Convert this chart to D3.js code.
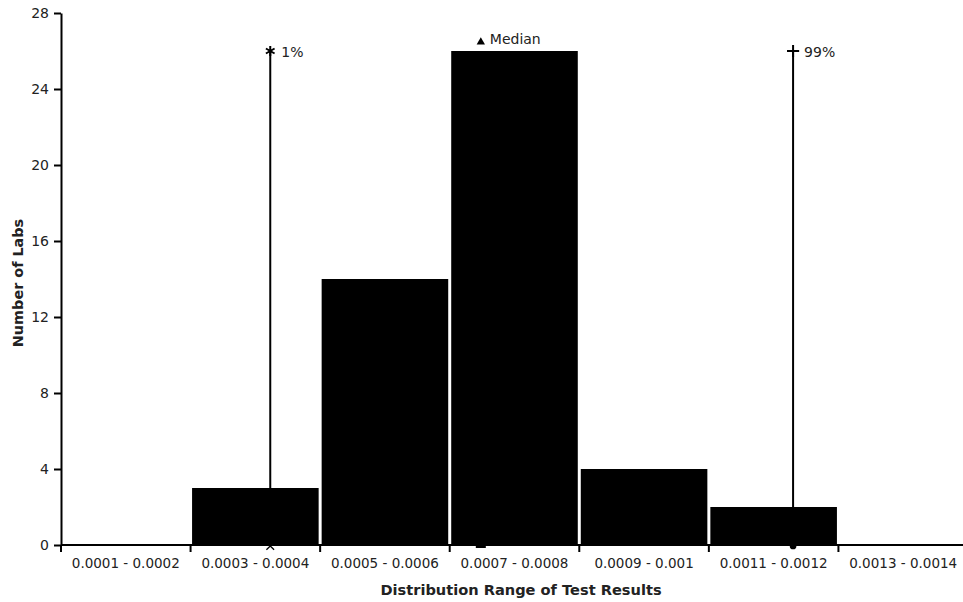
<!DOCTYPE html>
<html><head><meta charset="utf-8">
<script src="https://cdn.jsdelivr.net/npm/d3@7"></script>
<style>body{margin:0;background:#fff}svg{display:block}text{font-family:"DejaVu Sans",Verdana,sans-serif;fill:#222}</style>
</head><body><svg id="c" width="963" height="602"></svg>
<script>
const categories = ["0.0001 - 0.0002","0.0003 - 0.0004","0.0005 - 0.0006","0.0007 - 0.0008","0.0009 - 0.001","0.0011 - 0.0012","0.0013 - 0.0014"];
const counts = [0, 3, 14, 26, 4, 2, 0];
const yTicks = [0, 4, 8, 12, 16, 20, 24, 28];
const markerLabels = ["1%", "Median", "99%"];
const markerValues = [0.000423, 0.000748, 0.00123];
const markerHeights = [26, 26, 26];
const binStart = 0.0001, binWidth = 0.0002;

const svg = d3.select("#c");
const m = {left: 61, top: 13, bottom: 545, right: 968};
const x = d3.scaleBand().domain(categories).range([m.left, m.right]).paddingInner(0).paddingOuter(0);
const xv = d3.scaleLinear().domain([binStart, binStart + binWidth * categories.length]).range([m.left, m.right]);
const y = d3.scaleLinear().domain([0, 28]).range([m.bottom, m.top]);

// bars
svg.append("g").selectAll("rect").data(categories).join("rect")
  .attr("x", d => x(d) + 1.5)
  .attr("width", x.bandwidth() - 3)
  .attr("y", (d, i) => y(counts[i]))
  .attr("height", (d, i) => y(0) - y(counts[i]))
  .attr("fill", "#000");

// marker lines
const mk = svg.append("g");
markerValues.forEach((v, i) => {
  mk.append("line").attr("x1", xv(v)).attr("x2", xv(v))
    .attr("y1", y(0)).attr("y2", y(markerHeights[i]))
    .attr("stroke", "#000").attr("stroke-width", 2);
});
// top symbols
const topSyms = [d3.symbolAsterisk, d3.symbolTriangle, d3.symbolPlus];
const topSizes = [70, 30, 50];
const topOffsets = [0, -9, 0];
markerValues.forEach((v, i) => {
  mk.append("path").attr("d", d3.symbol(topSyms[i], topSizes[i])())
    .attr("transform", `translate(${xv(v)},${y(markerHeights[i]) + topOffsets[i]})`)
    .attr("fill", "#000").attr("stroke", "#000").attr("stroke-width", i === 1 ? 0 : 2);
});
// bottom symbols
mk.append("path").attr("d", d3.symbol(d3.symbolTimes, 40)())
  .attr("transform", `translate(${xv(markerValues[0])},${y(0) + 1})`)
  .attr("fill", "none").attr("stroke", "#000").attr("stroke-width", 1.3);
mk.append("rect").attr("x", xv(markerValues[1]) - 5).attr("y", y(0) - 1).attr("width", 10).attr("height", 4).attr("fill", "#000");
mk.append("path").attr("d", d3.symbol(d3.symbolCircle, 35)())
  .attr("transform", `translate(${xv(markerValues[2])},${y(0) + 1})`)
  .attr("fill", "#000");
// labels
const labOff = [[11, 1], [9, -12], [11, 1]];
markerValues.forEach((v, i) => {
  mk.append("text").attr("x", xv(v) + labOff[i][0]).attr("y", y(markerHeights[i]) + labOff[i][1])
    .attr("dy", "0.35em").attr("font-size", 14).text(markerLabels[i]);
});

// axes
const yAxis = svg.append("g").attr("transform", `translate(${m.left},0)`)
  .call(d3.axisLeft(y).tickValues(yTicks).tickSize(7).tickSizeOuter(0).tickPadding(5));
yAxis.selectAll("text").attr("font-size", 14).attr("fill", "#222");
yAxis.select(".domain").attr("stroke", "#000").attr("stroke-width", 2);
yAxis.selectAll(".tick line").attr("stroke", "#000").attr("stroke-width", 2);

const xAxis = svg.append("g").attr("transform", `translate(0,${m.bottom})`);
xAxis.append("line").attr("x1", m.left).attr("x2", m.right).attr("stroke", "#000").attr("stroke-width", 2);
xAxis.selectAll("line.t").data(categories.concat(["end"])).join("line").attr("class", "t")
  .attr("x1", (d, i) => m.left + i * x.bandwidth()).attr("x2", (d, i) => m.left + i * x.bandwidth())
  .attr("y1", 0).attr("y2", 7).attr("stroke", "#000").attr("stroke-width", 2);
xAxis.selectAll("text").data(categories).join("text")
  .attr("x", d => x(d) + x.bandwidth() / 2).attr("y", 18).attr("dy", "0.35em")
  .attr("text-anchor", "middle").attr("font-size", 13.5).text(d => d);

svg.append("text").attr("x", 521).attr("y", 590).attr("dy", "0.35em").attr("text-anchor", "middle")
  .attr("font-size", 14.6).attr("font-weight", "bold").attr("fill", "#111").text("Distribution Range of Test Results");
svg.append("text").attr("transform", "translate(18,283) rotate(-90)").attr("dy", "0.35em").attr("text-anchor", "middle")
  .attr("font-size", 14.4).attr("font-weight", "bold").attr("fill", "#111").text("Number of Labs");
</script></body></html>
